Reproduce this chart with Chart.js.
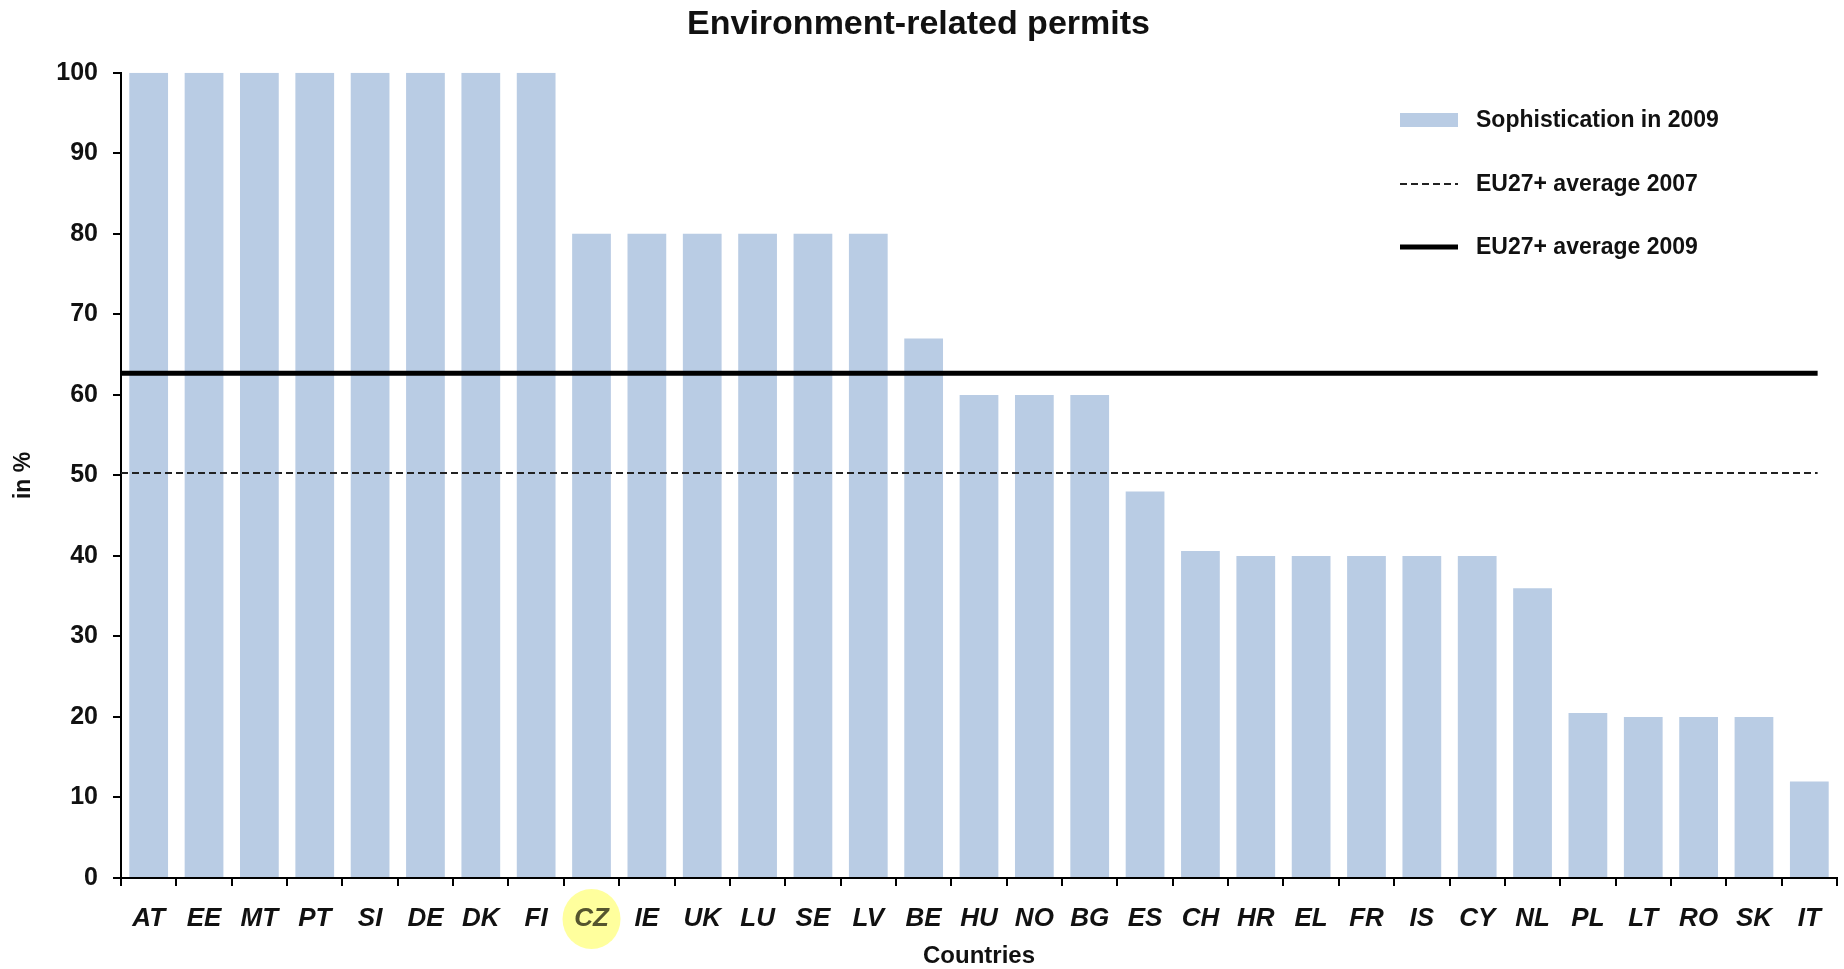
<!DOCTYPE html>
<html>
<head>
<meta charset="utf-8">
<title>Environment-related permits</title>
<script src="https://cdn.jsdelivr.net/npm/chart.js@4.4.1/dist/chart.umd.min.js"></script>
<style>
  html, body { margin: 0; padding: 0; background: #fff; overflow: hidden; }
  #wrap { width: 1844px; height: 969px; }
</style>
</head>
<body>
<div id="wrap"><canvas id="permitsChart" width="1844" height="969"></canvas></div>
<script>
const categories = ['AT', 'EE', 'MT', 'PT', 'SI', 'DE', 'DK', 'FI', 'CZ', 'IE', 'UK', 'LU', 'SE', 'LV', 'BE',
  'HU', 'NO', 'BG', 'ES', 'CH', 'HR', 'EL', 'FR', 'IS', 'CY', 'NL', 'PL', 'LT', 'RO', 'SK', 'IT'];
const sophistication2009 = [100, 100, 100, 100, 100, 100, 100, 100, 80, 80, 80, 80, 80, 80, 67,
  60, 60, 60, 48, 40.6, 40, 40, 40, 40, 40, 36, 20.5, 20, 20, 20, 12];
const euAverage2007 = 50.3;
const euAverage2009 = 62.7;
const yTicks = { min: 0, max: 100, step: 10 };
const highlightedCountry = 'CZ';

const FONT = '"Liberation Sans", Arial, sans-serif';
const TEXT = '#111';

// horizontal average line, from the y axis to just past the last category
const avgLine = (v) => [{ x: -0.5, y: v }, { x: categories.length - 0.85, y: v }];

// yellow marker behind the highlighted country label
const highlightPlugin = {
  id: 'highlight',
  beforeDraw(chart) {
    const xs = chart.scales.x;
    const i = categories.indexOf(highlightedCountry);
    if (i < 0) return;
    const cx = xs.getPixelForValue(i);
    const cy = xs.top + 41;
    const ctx = chart.ctx;
    ctx.save();
    ctx.fillStyle = 'rgba(255, 255, 140, 0.85)';
    ctx.beginPath();
    ctx.ellipse(cx, cy, 29, 30, 0, 0, Math.PI * 2);
    ctx.fill();
    ctx.restore();
  }
};

// legend drawn inside the plot, top right
const legendPlugin = {
  id: 'insideLegend',
  afterDraw(chart) {
    const ctx = chart.ctx;
    const ds = chart.data.datasets;
    const x0 = 1400, x1 = 1458, tx = 1476;
    const rows = [120, 184, 247];
    ctx.save();
    ctx.font = 'bold 23px ' + FONT;
    ctx.textBaseline = 'middle';
    ds.forEach((d, k) => {
      const y = rows[k];
      if (d.type === 'line') {
        ctx.strokeStyle = d.borderColor;
        ctx.lineWidth = d.borderWidth;
        ctx.setLineDash(d.borderDash || []);
        ctx.beginPath();
        ctx.moveTo(x0, y);
        ctx.lineTo(x1, y);
        ctx.stroke();
        ctx.setLineDash([]);
      } else {
        ctx.fillStyle = d.backgroundColor;
        ctx.fillRect(x0, y - 7, x1 - x0, 14);
      }
      ctx.fillStyle = TEXT;
      ctx.fillText(d.label, tx, y + 1);
    });
    ctx.restore();
  }
};

const ctx = document.getElementById('permitsChart').getContext('2d');
new Chart(ctx, {
  type: 'bar',
  data: {
    labels: categories,
    datasets: [
      {
        label: 'Sophistication in 2009',
        data: sophistication2009,
        backgroundColor: '#b9cce4',
        barPercentage: 0.7,
        categoryPercentage: 1,
        grouped: false,
        order: 2,
      },
      {
        type: 'line',
        label: 'EU27+ average 2007',
        xAxisID: 'xLine',
        data: avgLine(euAverage2007),
        borderColor: '#222',
        borderWidth: 2,
        borderDash: [7, 4],
        pointRadius: 0,
        order: 1,
      },
      {
        type: 'line',
        label: 'EU27+ average 2009',
        xAxisID: 'xLine',
        data: avgLine(euAverage2009),
        borderColor: '#000',
        borderWidth: 5,
        pointRadius: 0,
        order: 0,
      },
    ],
  },
  options: {
    responsive: false,
    animation: false,
    events: [],
    layout: { padding: { left: 0, right: 7, top: 0, bottom: 0 } },
    plugins: {
      legend: { display: false },
      tooltip: { enabled: false },
      title: {
        display: true,
        text: 'Environment-related permits',
        color: TEXT,
        font: { family: FONT, size: 34, weight: 'bold' },
        padding: { top: 4, bottom: 28 },
      },
    },
    scales: {
      x: {
        grid: { display: true, drawOnChartArea: false, drawTicks: true, tickLength: 8, color: '#000', lineWidth: 2, offset: true },
        border: { display: true, color: '#000', width: 2 },
        ticks: {
          autoSkip: false,
          maxRotation: 0,
          padding: 17,
          color: (c) => (categories[c.index] === highlightedCountry ? '#55552e' : TEXT),
          font: { family: FONT, size: 26, weight: 'bold', style: 'italic' },
        },
        title: {
          display: true,
          text: 'Countries',
          color: TEXT,
          font: { family: FONT, size: 24, weight: 'bold' },
          padding: { top: 0, bottom: -2 },
        },
        afterFit: (s) => { s.height = 91; },
      },
      // invisible linear twin of the category axis, used by the average lines
      xLine: {
        type: 'linear',
        position: 'top',
        offset: false,
        bounds: 'data',
        min: -0.5,
        max: categories.length - 0.5,
        grid: { display: false, drawTicks: false, offset: false },
        border: { display: false },
        ticks: { display: false },
        afterFit: (s) => { s.height = 0; },
      },
      y: {
        min: yTicks.min,
        max: yTicks.max,
        ticks: {
          stepSize: yTicks.step,
          padding: 15,
          color: TEXT,
          font: { family: FONT, size: 25, weight: 'bold' },
        },
        grid: { drawOnChartArea: false, drawTicks: true, tickLength: 8, color: '#000', lineWidth: 2 },
        border: { display: true, color: '#000', width: 2 },
        title: {
          display: true,
          text: 'in %',
          color: TEXT,
          font: { family: FONT, size: 23, weight: 'bold' },
          padding: { top: 10, bottom: 0 },
        },
        afterFit: (s) => { s.width = 121; },
      },
    },
  },
  plugins: [highlightPlugin, legendPlugin],
});
</script>
</body>
</html>
